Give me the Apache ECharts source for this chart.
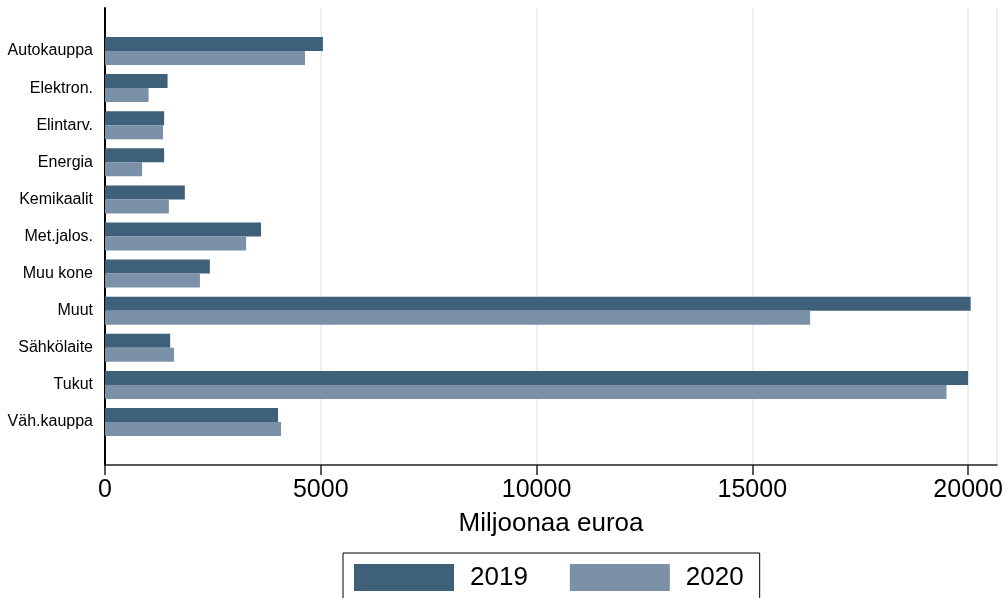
<!DOCTYPE html>
<html>
<head>
<meta charset="utf-8">
<script src="https://cdn.jsdelivr.net/npm/echarts@6/dist/echarts.min.js"></script>
<style>
html, body { margin: 0; padding: 0; background: #fff; }
#chart { width: 1007px; height: 598px; }
</style>
</head>
<body>
<div id="chart"></div>
<script>
// toimialat ja arvot (miljoonaa euroa)
var categories = ['Autokauppa', 'Elektron.', 'Elintarv.', 'Energia', 'Kemikaalit', 'Met.jalos.', 'Muu kone', 'Muut', 'Sähkölaite', 'Tukut', 'Väh.kauppa'];
var values2019 = [5050, 1450, 1370, 1370, 1850, 3615, 2430, 20060, 1510, 20000, 4010];
var values2020 = [4635, 1010, 1345, 860, 1480, 3270, 2200, 16340, 1600, 19500, 4080];
var xTicks = [0, 5000, 10000, 15000, 20000];

var xMax = 20670;
var font = 'Liberation Sans, Arial, sans-serif';

var myChart = echarts.init(document.getElementById('chart'));
var option = {
  animation: false,
  textStyle: { fontFamily: font },
  grid: [
    // bars
    { left: 105, right: 10, top: 32.45, bottom: 157.45 },
    // frame: axis lines, ticks, gridlines
    { left: 105, right: 10, top: 8, bottom: 133 }
  ],
  legend: {
    data: ['2019', '2020'],
    left: 343,
    top: 553,
    itemWidth: 100,
    itemHeight: 27,
    itemGap: 42,
    padding: [11, 16, 11, 11],
    borderColor: '#000',
    borderWidth: 1,
    borderRadius: 0,
    icon: 'rect',
    textStyle: { fontSize: 26, color: '#000', fontFamily: font, padding: [0, 0, 0, 11] }
  },
  xAxis: [
    { gridIndex: 0, type: 'value', min: 0, max: xMax, show: false },
    {
      gridIndex: 1, type: 'value', min: 0, max: xMax, interval: 5000,
      name: 'Miljoonaa euroa',
      nameLocation: 'middle',
      nameGap: 46,
      nameTextStyle: { fontSize: 26, color: '#000', fontFamily: font },
      axisLine: { show: true, lineStyle: { color: '#222', width: 1.5 } },
      axisTick: { show: true, length: 10, lineStyle: { color: '#222', width: 1.5 } },
      axisLabel: {
        fontSize: 25, color: '#000', fontFamily: font, margin: 13, showMaxLabel: false,
        formatter: function (v) { return xTicks.indexOf(v) >= 0 ? String(v) : ''; }
      },
      splitLine: {
        show: true,
        lineStyle: { color: '#e9eff3', width: 2 }
      }
    }
  ],
  yAxis: [
    {
      gridIndex: 0, type: 'category', inverse: true, data: categories,
      axisLine: { show: false },
      axisTick: { show: false },
      axisLabel: { fontSize: 16, color: '#000', fontFamily: font, margin: 12, padding: [5, 0, 0, 0] }
    },
    {
      gridIndex: 1, type: 'value', min: 0, max: 1,
      axisLine: { show: true, onZero: false, lineStyle: { color: '#000', width: 2 } },
      axisTick: { show: false },
      axisLabel: { show: false },
      splitLine: { show: false }
    }
  ],
  series: [
    {
      name: '2019', type: 'bar', xAxisIndex: 0, yAxisIndex: 0,
      barWidth: 14, barGap: '0%',
      itemStyle: { color: '#3e6079' },
      data: values2019
    },
    {
      name: '2020', type: 'bar', xAxisIndex: 0, yAxisIndex: 0,
      barWidth: 14, barGap: '0%',
      itemStyle: { color: '#7b91a8' },
      data: values2020
    }
  ]
};
myChart.setOption(option);
</script>
</body>
</html>
